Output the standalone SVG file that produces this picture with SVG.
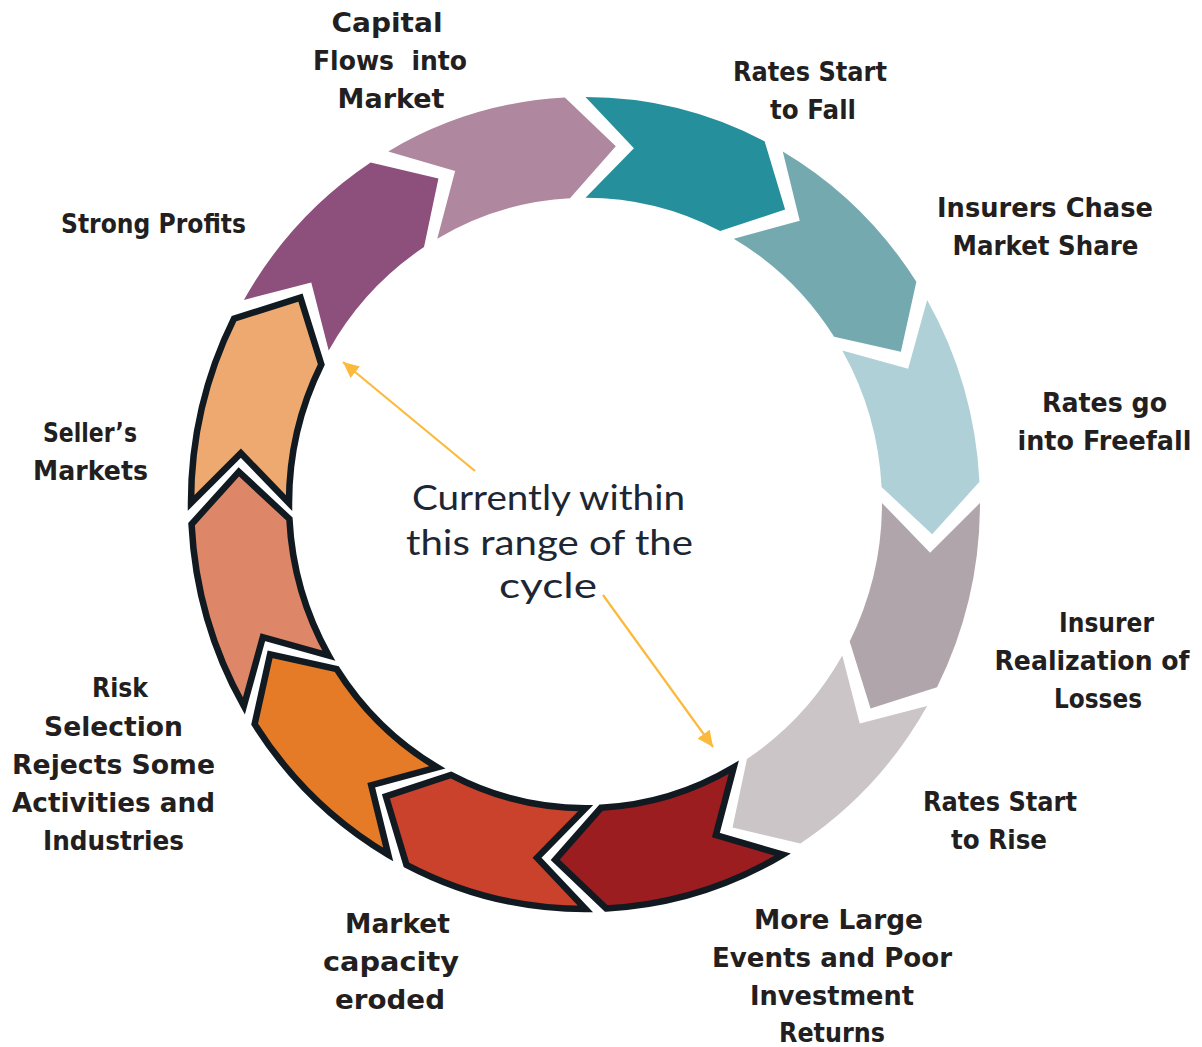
<svg xmlns="http://www.w3.org/2000/svg" xmlns:xlink="http://www.w3.org/1999/xlink" width="1202" height="1047" viewBox="0 0 1202 1047">
  <style>
    .seg { stroke: none; }
    .hl { stroke: #111a21; stroke-width: 6.5; stroke-linejoin: miter; stroke-miterlimit: 4; }
    .lbl { font-family: "DejaVu Sans", "Liberation Sans", sans-serif; font-weight: bold; font-size: 27px; fill: #231f20; text-anchor: middle; }
    .note { font-family: Lato, "Open Sans", sans-serif; font-weight: 400; font-size: 35px; fill: #1d2733; text-anchor: middle; }
    .pointer { stroke: #fbba3c; stroke-width: 2.2; fill: none; }
  </style>
  <defs>
    <!-- one ring segment (block arc with notched tail and pointed head), tail at 12 o'clock, pointing clockwise -->
    <path id="seg" vector-effect="non-scaling-stroke" d="M0,-394.5 L48.43,-344.61 L0,-296.5 A296.5,296.5 0 0 1 134.61,-264.18 L199.6,-285.06 L179.1,-351.5 A394.5,394.5 0 0 0 0,-394.5 Z"/>
    <marker id="tip" markerUnits="userSpaceOnUse" markerWidth="17" markerHeight="15" refX="16" refY="7.5" orient="auto">
      <path d="M0,0 L16,7.5 L0,15 Z" fill="#fbba3c"/>
    </marker>
  </defs>

  <rect width="1202" height="1047" fill="#ffffff"/>

  <!-- ring of twelve stages, clockwise -->
  <g id="node-capital-flows">
    <use xlink:href="#seg" class="seg" fill="#af879f" transform="translate(585.5 503) scale(1 1.0292) rotate(330)"/>
    <text class="lbl" xml:space="preserve"><tspan x="387" y="32" textLength="111" lengthAdjust="spacingAndGlyphs">Capital</tspan><tspan x="390" y="70" textLength="154" lengthAdjust="spacingAndGlyphs">Flows  into</tspan><tspan x="391" y="108" textLength="107" lengthAdjust="spacingAndGlyphs">Market</tspan></text>
  </g>
  <g id="node-rates-fall">
    <use xlink:href="#seg" class="seg" fill="#25909c" transform="translate(585.5 503) scale(1 1.0292) rotate(0)"/>
    <text class="lbl"><tspan x="810" y="81" textLength="154" lengthAdjust="spacingAndGlyphs">Rates Start</tspan><tspan x="813" y="119" textLength="86" lengthAdjust="spacingAndGlyphs">to Fall</tspan></text>
  </g>
  <g id="node-insurers-chase">
    <use xlink:href="#seg" class="seg" fill="#74aaaf" transform="translate(585.5 503) scale(1 1.0292) rotate(30)"/>
    <text class="lbl"><tspan x="1045" y="217" textLength="216" lengthAdjust="spacingAndGlyphs">Insurers Chase</tspan><tspan x="1045.5" y="255" textLength="186" lengthAdjust="spacingAndGlyphs">Market Share</tspan></text>
  </g>
  <g id="node-freefall">
    <use xlink:href="#seg" class="seg" fill="#afd0d7" transform="translate(585.5 503) scale(1 1.0292) rotate(60)"/>
    <text class="lbl"><tspan x="1104.5" y="412" textLength="125" lengthAdjust="spacingAndGlyphs">Rates go</tspan><tspan x="1104.5" y="450" textLength="174" lengthAdjust="spacingAndGlyphs">into Freefall</tspan></text>
  </g>
  <g id="node-realization">
    <use xlink:href="#seg" class="seg" fill="#b0a5aa" transform="translate(585.5 503) scale(1 1.0292) rotate(90)"/>
    <text class="lbl"><tspan x="1106.5" y="632" textLength="95" lengthAdjust="spacingAndGlyphs">Insurer</tspan><tspan x="1092" y="670" font-size="26" textLength="195" lengthAdjust="spacingAndGlyphs">Realization of</tspan><tspan x="1098" y="708" textLength="88" lengthAdjust="spacingAndGlyphs">Losses</tspan></text>
  </g>
  <g id="node-rates-rise">
    <use xlink:href="#seg" class="seg" fill="#cbc5c7" transform="translate(585.5 503) scale(1 1.0292) rotate(120)"/>
    <text class="lbl"><tspan x="1000" y="811" textLength="154" lengthAdjust="spacingAndGlyphs">Rates Start</tspan><tspan x="999" y="849" textLength="96" lengthAdjust="spacingAndGlyphs">to Rise</tspan></text>
  </g>
  <g id="node-large-events">
    <use xlink:href="#seg" class="seg hl" fill="#9b1d20" transform="translate(585.5 503) scale(1 1.0292) rotate(150)"/>
    <text class="lbl"><tspan x="838.5" y="929" textLength="169" lengthAdjust="spacingAndGlyphs">More Large</tspan><tspan x="832" y="967" textLength="240" lengthAdjust="spacingAndGlyphs">Events and Poor</tspan><tspan x="832" y="1005" textLength="164" lengthAdjust="spacingAndGlyphs">Investment</tspan><tspan x="832" y="1042" textLength="106" lengthAdjust="spacingAndGlyphs">Returns</tspan></text>
  </g>
  <g id="node-capacity-eroded">
    <use xlink:href="#seg" class="seg hl" fill="#ca412c" transform="translate(585.5 503) scale(1 1.0292) rotate(180)"/>
    <text class="lbl"><tspan x="397.5" y="933" textLength="105" lengthAdjust="spacingAndGlyphs">Market</tspan><tspan x="391" y="971" textLength="136" lengthAdjust="spacingAndGlyphs">capacity</tspan><tspan x="390" y="1009" textLength="110" lengthAdjust="spacingAndGlyphs">eroded</tspan></text>
  </g>
  <g id="node-risk-selection">
    <use xlink:href="#seg" class="seg hl" fill="#e57b27" transform="translate(585.5 503) scale(1 1.0292) rotate(210)"/>
    <text class="lbl"><tspan x="120" y="697" textLength="56" lengthAdjust="spacingAndGlyphs">Risk</tspan><tspan x="113.5" y="736" textLength="139" lengthAdjust="spacingAndGlyphs">Selection</tspan><tspan x="113.5" y="774" textLength="203" lengthAdjust="spacingAndGlyphs">Rejects Some</tspan><tspan x="113.5" y="812" textLength="203" lengthAdjust="spacingAndGlyphs">Activities and</tspan><tspan x="113.5" y="850" textLength="141" lengthAdjust="spacingAndGlyphs">Industries</tspan></text>
  </g>
  <g id="node-transition">
    <use xlink:href="#seg" class="seg hl" fill="#de8668" transform="translate(585.5 503) scale(1 1.0292) rotate(240)"/>
  </g>
  <g id="node-sellers-markets">
    <use xlink:href="#seg" class="seg hl" fill="#eea970" transform="translate(585.5 503) scale(1 1.0292) rotate(270)"/>
    <text class="lbl"><tspan x="90" y="442" textLength="94" lengthAdjust="spacingAndGlyphs">Seller’s</tspan><tspan x="90.5" y="480" textLength="115" lengthAdjust="spacingAndGlyphs">Markets</tspan></text>
  </g>
  <g id="node-strong-profits">
    <use xlink:href="#seg" class="seg" fill="#8d4f7b" transform="translate(585.5 503) scale(1 1.0292) rotate(300)"/>
    <text class="lbl"><tspan x="153.5" y="233" textLength="185" lengthAdjust="spacingAndGlyphs">Strong Profits</tspan></text>
  </g>

  <!-- note in the middle of the ring -->
  <g id="node-current-range">
    <text class="note"><tspan x="548.5" y="510" textLength="273" lengthAdjust="spacingAndGlyphs">Currently within</tspan><tspan x="549.5" y="555" textLength="287" lengthAdjust="spacingAndGlyphs">this range of the</tspan><tspan x="548" y="598" textLength="98" lengthAdjust="spacingAndGlyphs">cycle</tspan></text>
  </g>

  <!-- pointers from the note to both ends of the highlighted range -->
  <g id="connectors">
    <line class="pointer" x1="475" y1="471" x2="343" y2="362" marker-end="url(#tip)"/>
    <line class="pointer" x1="603" y1="595" x2="713" y2="747" marker-end="url(#tip)"/>
  </g>
</svg>
